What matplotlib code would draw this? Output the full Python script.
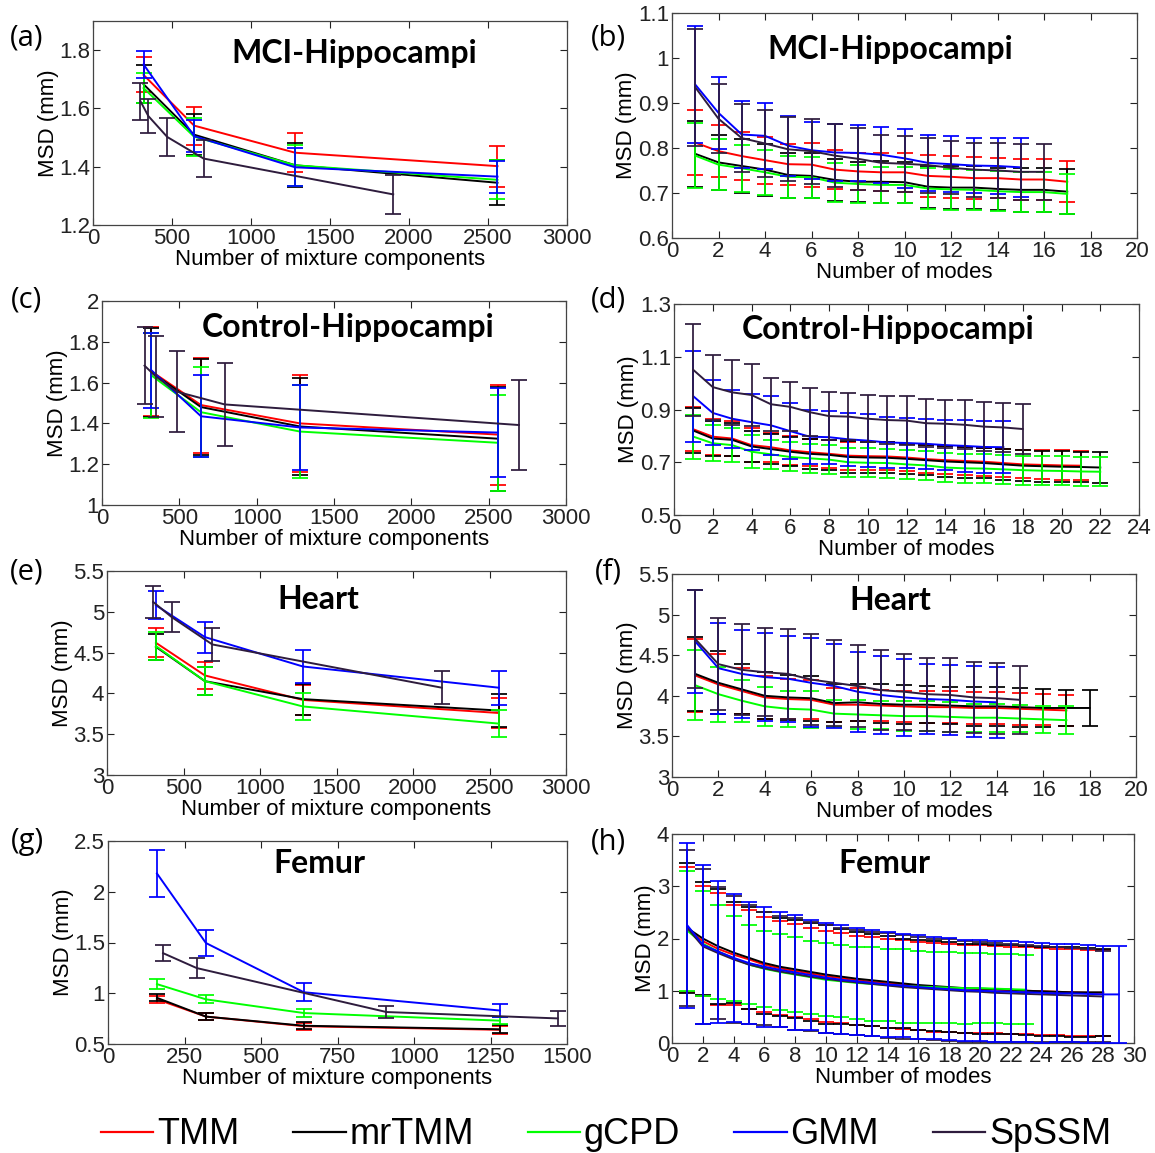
import matplotlib
matplotlib.use("Agg")
import matplotlib.pyplot as plt
from matplotlib.lines import Line2D
import numpy as np

W, H = 1155, 1153

# ---- (a) MCI-Hippocampi vs. mixture components ----
A_X = [320, 640, 1280, 2560]
A_TMM = [1.715, 1.541, 1.448, 1.402]
A_TMM_ERR = [0.060, 0.065, 0.067, 0.070]
A_MRTMM = [1.683, 1.510, 1.405, 1.345]
A_MRTMM_ERR = [0.065, 0.070, 0.075, 0.077]
A_GCPD = [1.670, 1.503, 1.405, 1.355]
A_GCPD_ERR = [0.050, 0.065, 0.070, 0.067]
A_GMM = [1.751, 1.505, 1.398, 1.366]
A_GMM_ERR = [0.045, 0.055, 0.065, 0.055]
A_SP_X = [300, 350, 470, 700, 1900]
A_SP = [1.625, 1.574, 1.502, 1.428, 1.305]
A_SP_ERR = [0.063, 0.058, 0.064, 0.063, 0.066]

# ---- (b) MCI-Hippocampi vs. modes ----
B_TMM = [0.812, 0.793, 0.782, 0.773, 0.764, 0.763, 0.752, 0.748, 0.746, 0.746,
         0.738, 0.736, 0.733, 0.733, 0.730, 0.730, 0.725]
B_TMM_ERR = [0.072, 0.058, 0.053, 0.052, 0.046, 0.049, 0.043, 0.042, 0.042, 0.044,
             0.047, 0.046, 0.047, 0.045, 0.046, 0.046, 0.046]
B_MRTMM = [0.787, 0.768, 0.760, 0.752, 0.740, 0.738, 0.729, 0.725, 0.725, 0.724,
           0.714, 0.712, 0.712, 0.709, 0.707, 0.707, 0.703]
B_MRTMM_ERR = [0.074, 0.062, 0.060, 0.058, 0.050, 0.050, 0.047, 0.045, 0.047, 0.046,
               0.047, 0.047, 0.047, 0.046, 0.049, 0.049, 0.050]
B_GCPD = [0.783, 0.763, 0.755, 0.746, 0.736, 0.735, 0.723, 0.720, 0.718, 0.718,
          0.710, 0.708, 0.707, 0.704, 0.702, 0.702, 0.698]
B_GCPD_ERR = [0.072, 0.057, 0.052, 0.050, 0.047, 0.046, 0.043, 0.042, 0.040, 0.040,
              0.045, 0.045, 0.045, 0.045, 0.045, 0.045, 0.045]
B_GMM = [0.941, 0.878, 0.830, 0.827, 0.805, 0.795, 0.790, 0.789, 0.785, 0.777,
         0.767, 0.764, 0.761, 0.760, 0.757]
B_GMM_ERR = [0.130, 0.080, 0.075, 0.073, 0.067, 0.063, 0.063, 0.063, 0.062, 0.066,
             0.063, 0.062, 0.062, 0.063, 0.065]
B_SP = [0.935, 0.865, 0.822, 0.810, 0.797, 0.793, 0.783, 0.776, 0.767, 0.765,
        0.762, 0.756, 0.752, 0.750, 0.747, 0.747]
B_SP_ERR = [0.130, 0.077, 0.076, 0.075, 0.071, 0.072, 0.070, 0.069, 0.063, 0.062,
            0.061, 0.059, 0.060, 0.062, 0.063, 0.063]

# ---- (c) Control-Hippocampi vs. mixture components ----
C_X = [320, 640, 1280, 2560]
C_TMM = [1.655, 1.490, 1.400, 1.345]
C_TMM_ERR = [0.220, 0.233, 0.237, 0.245]
C_MRTMM = [1.650, 1.480, 1.385, 1.325]
C_MRTMM_ERR = [0.220, 0.235, 0.240, 0.255]
C_GCPD = [1.635, 1.455, 1.360, 1.305]
C_GCPD_ERR = [0.210, 0.220, 0.230, 0.235]
C_GMM = [1.660, 1.435, 1.380, 1.355]
C_GMM_ERR = [0.183, 0.200, 0.207, 0.218]
C_SP_X = [275, 348, 482, 793, 2696]
C_SP = [1.683, 1.630, 1.556, 1.493, 1.392]
C_SP_ERR = [0.190, 0.198, 0.200, 0.202, 0.220]

# ---- (d) Control-Hippocampi vs. modes ----
D_TMM = [0.825, 0.797, 0.790, 0.765, 0.757, 0.745, 0.738, 0.732, 0.725, 0.723, 0.722,
         0.718, 0.712, 0.708, 0.705, 0.702, 0.697, 0.692, 0.690, 0.688, 0.687]
D_TMM_ERR = [0.083, 0.068, 0.065, 0.065, 0.055, 0.055, 0.052, 0.052, 0.053, 0.053, 0.053,
             0.053, 0.053, 0.053, 0.053, 0.053, 0.053, 0.053, 0.055, 0.057, 0.055]
D_MRTMM = [0.820, 0.790, 0.785, 0.760, 0.750, 0.740, 0.732, 0.728, 0.720, 0.718, 0.717,
           0.713, 0.708, 0.703, 0.700, 0.697, 0.692, 0.687, 0.685, 0.683, 0.682, 0.680]
D_MRTMM_ERR = [0.085, 0.065, 0.062, 0.060, 0.058, 0.056, 0.058, 0.058, 0.060, 0.060, 0.058,
               0.058, 0.058, 0.058, 0.058, 0.058, 0.058, 0.058, 0.058, 0.058, 0.058, 0.058]
D_GCPD = [0.797, 0.772, 0.765, 0.740, 0.730, 0.720, 0.715, 0.710, 0.700, 0.698, 0.697,
          0.692, 0.688, 0.680, 0.677, 0.676, 0.673, 0.670, 0.668, 0.667, 0.665, 0.664]
D_GCPD_ERR = [0.083, 0.068, 0.065, 0.062, 0.055, 0.055, 0.055, 0.055, 0.055, 0.055, 0.055,
              0.055, 0.055, 0.055, 0.055, 0.055, 0.055, 0.055, 0.055, 0.055, 0.055, 0.055]
D_GMM = [0.950, 0.887, 0.865, 0.852, 0.840, 0.818, 0.797, 0.795, 0.787, 0.782, 0.775,
         0.773, 0.770, 0.765, 0.762, 0.758, 0.757]
D_GMM_ERR = [0.172, 0.123, 0.110, 0.106, 0.112, 0.105, 0.103, 0.100, 0.100, 0.100, 0.095,
             0.095, 0.095, 0.095, 0.098, 0.097, 0.098]
D_SP = [1.050, 0.985, 0.965, 0.955, 0.920, 0.910, 0.890, 0.875, 0.873, 0.865, 0.860,
        0.858, 0.848, 0.846, 0.842, 0.835, 0.832, 0.826]
D_SP_ERR = [0.175, 0.123, 0.122, 0.117, 0.100, 0.093, 0.090, 0.090, 0.090, 0.090, 0.092,
            0.092, 0.090, 0.091, 0.093, 0.092, 0.093, 0.096]

# ---- (e) Heart vs. mixture components ----
E_X = [320, 640, 1280, 2560]
E_TMM = [4.62, 4.22, 3.92, 3.76]
E_TMM_ERR = [0.18, 0.17, 0.18, 0.185]
E_MRTMM = [4.57, 4.15, 3.93, 3.79]
E_MRTMM_ERR = [0.16, 0.17, 0.19, 0.20]
E_GCPD = [4.58, 4.15, 3.84, 3.63]
E_GCPD_ERR = [0.17, 0.17, 0.17, 0.17]
E_GMM = [5.08, 4.69, 4.33, 4.07]
E_GMM_ERR = [0.17, 0.19, 0.20, 0.21]
E_SP_X = [302, 423, 688, 2188]
E_SP = [5.12, 4.935, 4.60, 4.07]
E_SP_ERR = [0.20, 0.185, 0.20, 0.20]

# ---- (f) Heart vs. modes ----
F_TMM = [4.25, 4.14, 4.06, 3.98, 3.96, 3.95, 3.89, 3.89, 3.88, 3.87, 3.86, 3.86,
         3.85, 3.85, 3.84, 3.83, 3.82]
F_TMM_ERR = [0.45, 0.37, 0.28, 0.27, 0.25, 0.24, 0.21, 0.20, 0.19, 0.19, 0.20, 0.20,
             0.20, 0.20, 0.20, 0.19, 0.19]
F_MRTMM = [4.27, 4.16, 4.08, 4.00, 3.98, 3.97, 3.91, 3.92, 3.90, 3.89, 3.89, 3.88,
           3.87, 3.87, 3.86, 3.85, 3.85, 3.85]
F_MRTMM_ERR = [0.46, 0.39, 0.31, 0.29, 0.28, 0.28, 0.23, 0.23, 0.24, 0.24, 0.23, 0.23,
               0.24, 0.24, 0.24, 0.23, 0.22, 0.22]
F_GCPD = [4.13, 4.02, 3.94, 3.87, 3.84, 3.83, 3.78, 3.77, 3.76, 3.75, 3.75, 3.74,
          3.73, 3.73, 3.72, 3.71, 3.70]
F_GCPD_ERR = [0.43, 0.34, 0.26, 0.24, 0.22, 0.23, 0.17, 0.18, 0.17, 0.18, 0.18, 0.18,
              0.17, 0.17, 0.17, 0.17, 0.17]
F_GMM = [4.67, 4.34, 4.27, 4.23, 4.21, 4.16, 4.12, 4.05, 4.01, 3.98, 3.96, 3.95,
         3.93, 3.92]
F_GMM_ERR = [0.63, 0.56, 0.54, 0.54, 0.53, 0.55, 0.52, 0.49, 0.48, 0.47, 0.43, 0.43,
             0.44, 0.44]
F_SP = [4.70, 4.39, 4.32, 4.29, 4.27, 4.20, 4.16, 4.12, 4.07, 4.05, 4.02, 4.01,
        3.98, 3.97, 3.95]
F_SP_ERR = [0.60, 0.57, 0.56, 0.54, 0.55, 0.56, 0.53, 0.50, 0.49, 0.47, 0.45, 0.46,
            0.44, 0.44, 0.42]

# ---- (g) Femur vs. mixture components ----
G_X = [160, 320, 640, 1280]
G_TMM = [0.94, 0.77, 0.675, 0.640]
G_TMM_ERR = [0.035, 0.035, 0.035, 0.040]
G_MRTMM = [0.955, 0.770, 0.680, 0.645]
G_MRTMM_ERR = [0.035, 0.035, 0.035, 0.040]
G_GCPD = [1.09, 0.94, 0.805, 0.730]
G_GCPD_ERR = [0.050, 0.040, 0.035, 0.035]
G_GMM = [2.18, 1.495, 1.01, 0.83]
G_GMM_ERR = [0.235, 0.125, 0.090, 0.065]
G_SP_X = [180, 290, 910, 1470]
G_SP = [1.395, 1.248, 0.815, 0.752]
G_SP_ERR = [0.080, 0.100, 0.055, 0.070]

# ---- (h) Femur vs. modes ----
H_TMM = [2.17, 1.95, 1.80, 1.69, 1.60, 1.50, 1.43, 1.38, 1.33, 1.28, 1.24, 1.20, 1.17, 1.14,
         1.12, 1.09, 1.07, 1.06, 1.04, 1.03, 1.02, 1.01, 1.00, 0.99, 0.98, 0.97, 0.96, 0.96]
H_TMM_ERR = [1.19, 1.05, 1.07, 0.96, 0.95, 0.91, 0.90, 0.89, 0.87, 0.87, 0.86, 0.85, 0.85, 0.86,
             0.85, 0.84, 0.85, 0.84, 0.84, 0.84, 0.83, 0.83, 0.83, 0.83, 0.82, 0.83, 0.82, 0.82]
H_MRTMM = [2.20, 2.00, 1.85, 1.73, 1.63, 1.53, 1.46, 1.41, 1.36, 1.31, 1.27, 1.23, 1.20, 1.17,
           1.14, 1.11, 1.09, 1.07, 1.05, 1.04, 1.03, 1.02, 1.00, 0.99, 0.98, 0.97, 0.97, 0.97]
H_MRTMM_ERR = [1.24, 1.08, 1.10, 0.97, 0.97, 0.97, 0.94, 0.94, 0.94, 0.94, 0.91, 0.89, 0.88, 0.88,
               0.86, 0.86, 0.86, 0.86, 0.85, 0.86, 0.85, 0.85, 0.85, 0.85, 0.85, 0.86, 0.85, 0.83]
H_GCPD = [2.15, 1.90, 1.75, 1.62, 1.50, 1.42, 1.36, 1.31, 1.26, 1.21, 1.18, 1.15, 1.13, 1.11,
          1.09, 1.08, 1.07, 1.06, 1.05, 1.05, 1.04, 1.03, 1.02]
H_GCPD_ERR = [1.15, 1.00, 0.90, 0.81, 0.75, 0.73, 0.72, 0.71, 0.70, 0.70, 0.69, 0.69, 0.70, 0.69,
              0.70, 0.69, 0.68, 0.68, 0.68, 0.67, 0.66, 0.67, 0.66]
H_GMM = [2.25, 1.88, 1.75, 1.63, 1.53, 1.46, 1.40, 1.35, 1.30, 1.25, 1.21, 1.18, 1.15, 1.12,
         1.10, 1.07, 1.05, 1.03, 1.01, 1.00, 0.99, 0.98, 0.97, 0.96, 0.95, 0.95, 0.94, 0.93, 0.93]
H_GMM_ERR = [1.58, 1.52, 1.36, 1.22, 1.16, 1.15, 1.10, 1.10, 1.06, 1.05, 1.04, 1.02, 1.02, 1.01,
             0.99, 0.99, 0.98, 0.98, 0.97, 0.97, 0.97, 0.97, 0.96, 0.96, 0.94, 0.94, 0.94, 0.93, 0.93]
H_SP = [2.20, 1.85, 1.72, 1.60, 1.50, 1.43, 1.37, 1.32, 1.27, 1.23, 1.19, 1.16, 1.13, 1.10,
        1.07, 1.05, 1.03, 1.01, 0.99, 0.98, 0.96, 0.95, 0.94, 0.93, 0.92, 0.91, 0.90, 0.89]
H_SP_ERR = [1.50, 1.48, 1.27, 1.22, 1.14, 1.08, 1.07, 1.07, 1.04, 1.03, 1.02, 1.01, 1.00, 1.00,
            0.99, 0.98, 0.97, 0.98, 0.97, 0.96, 0.95, 0.94, 0.93, 0.92, 0.91, 0.90, 0.89, 0.88]

METHODS = ["TMM", "mrTMM", "gCPD", "GMM", "SpSSM"]
COLORS = {"TMM": "#ff0000", "mrTMM": "#000000", "gCPD": "#00ff00",
          "GMM": "#0000ff", "SpSSM": "#2e1c3d"}

TICK_FONT = ["Liberation Sans", "DejaVu Sans"]
TITLE_FONT = ["Lato", "DejaVu Sans"]
LW = 1.4


def px_axes(left, top, right, bottom):
    return fig.add_axes([left / W, 1 - bottom / H, (right - left) / W, (bottom - top) / H])


def draw_series(ax, x, y, err, name, z):
    ax.errorbar(x, y, yerr=err, color=COLORS[name], lw=LW, elinewidth=LW * 0.9,
                capsize=6, capthick=LW * 0.9, zorder=z)


def style_axes(ax, xlim, xticks, ylim, yticks, xlabel):
    ax.set_xlim(xlim)
    ax.set_ylim(ylim)
    ax.set_xticks(xticks)
    ax.set_xticklabels([f"{v:g}" for v in xticks], family=TICK_FONT, fontsize=16)
    ax.set_yticks(yticks)
    ax.set_yticklabels([f"{v:g}" for v in yticks], family=TICK_FONT, fontsize=16)
    ax.tick_params(direction="in", length=5, width=0.8, top=True, right=True, pad=2,
                   colors="#222222")
    for s in ax.spines.values():
        s.set_linewidth(0.9)
        s.set_color("#444444")
    ax.set_xlabel(xlabel, family=TICK_FONT, fontsize=16, labelpad=0)
    ax.set_ylabel("MSD (mm)", family=TICK_FONT, fontsize=16, labelpad=0.5)


def panel(ax, title, title_xy, series, order=METHODS):
    for z, name in enumerate(order):
        x, y, e = series[name]
        draw_series(ax, x, y, e, name, 3 + z)
    ax.text(*title_xy, title, transform=ax.transAxes, ha="center", va="center",
            family=TITLE_FONT, fontweight="bold", fontsize=23)


def modes(v):
    return np.arange(1, len(v) + 1)


fig = plt.figure(figsize=(W / 100, H / 100), dpi=100)

left_lbl = "Number of mixture components"
right_lbl = "Number of modes"

# (a)
ax = px_axes(93, 21, 567, 225)
panel(ax, "MCI-Hippocampi", (0.55, 0.84), {
    "TMM": (A_X, A_TMM, A_TMM_ERR), "mrTMM": (A_X, A_MRTMM, A_MRTMM_ERR),
    "gCPD": (A_X, A_GCPD, A_GCPD_ERR), "GMM": (A_X, A_GMM, A_GMM_ERR),
    "SpSSM": (A_SP_X, A_SP, A_SP_ERR)})
style_axes(ax, (0, 3000), np.arange(0, 3001, 500), (1.2, 1.9), [1.2, 1.4, 1.6, 1.8], left_lbl)

# (b)
ax = px_axes(672, 13, 1137, 238)
panel(ax, "MCI-Hippocampi", (0.47, 0.84), {
    "TMM": (modes(B_TMM), B_TMM, B_TMM_ERR), "mrTMM": (modes(B_MRTMM), B_MRTMM, B_MRTMM_ERR),
    "gCPD": (modes(B_GCPD), B_GCPD, B_GCPD_ERR), "GMM": (modes(B_GMM), B_GMM, B_GMM_ERR),
    "SpSSM": (modes(B_SP), B_SP, B_SP_ERR)})
style_axes(ax, (0, 20), np.arange(0, 21, 2), (0.6, 1.1), [0.6, 0.7, 0.8, 0.9, 1.0, 1.1], right_lbl)

# (c)
ax = px_axes(102, 301, 566, 505)
panel(ax, "Control-Hippocampi", (0.53, 0.87), {
    "TMM": (C_X, C_TMM, C_TMM_ERR), "mrTMM": (C_X, C_MRTMM, C_MRTMM_ERR),
    "gCPD": (C_X, C_GCPD, C_GCPD_ERR), "GMM": (C_X, C_GMM, C_GMM_ERR),
    "SpSSM": (C_SP_X, C_SP, C_SP_ERR)})
style_axes(ax, (0, 3000), np.arange(0, 3001, 500), (1.0, 2.0), [1.0, 1.2, 1.4, 1.6, 1.8, 2.0], left_lbl)

# (d)
ax = px_axes(674, 304, 1139, 515)
panel(ax, "Control-Hippocampi", (0.46, 0.88), {
    "TMM": (modes(D_TMM), D_TMM, D_TMM_ERR), "mrTMM": (modes(D_MRTMM), D_MRTMM, D_MRTMM_ERR),
    "gCPD": (modes(D_GCPD), D_GCPD, D_GCPD_ERR), "GMM": (modes(D_GMM), D_GMM, D_GMM_ERR),
    "SpSSM": (modes(D_SP), D_SP, D_SP_ERR)})
style_axes(ax, (0, 24), np.arange(0, 25, 2), (0.5, 1.3), [0.5, 0.7, 0.9, 1.1, 1.3], right_lbl)

# (e)
ax = px_axes(107, 571, 566, 775)
panel(ax, "Heart", (0.46, 0.86), {
    "TMM": (E_X, E_TMM, E_TMM_ERR), "mrTMM": (E_X, E_MRTMM, E_MRTMM_ERR),
    "gCPD": (E_X, E_GCPD, E_GCPD_ERR), "GMM": (E_X, E_GMM, E_GMM_ERR),
    "SpSSM": (E_SP_X, E_SP, E_SP_ERR)})
style_axes(ax, (0, 3000), np.arange(0, 3001, 500), (3, 5.5), [3, 3.5, 4, 4.5, 5, 5.5], left_lbl)

# (f)
ax = px_axes(672, 574, 1136, 777)
panel(ax, "Heart", (0.47, 0.87), {
    "TMM": (modes(F_TMM), F_TMM, F_TMM_ERR), "mrTMM": (modes(F_MRTMM), F_MRTMM, F_MRTMM_ERR),
    "gCPD": (modes(F_GCPD), F_GCPD, F_GCPD_ERR), "GMM": (modes(F_GMM), F_GMM, F_GMM_ERR),
    "SpSSM": (modes(F_SP), F_SP, F_SP_ERR)})
style_axes(ax, (0, 20), np.arange(0, 21, 2), (3, 5.5), [3, 3.5, 4, 4.5, 5, 5.5], right_lbl)

# (g)
ax = px_axes(108, 841, 567, 1044)
panel(ax, "Femur", (0.46, 0.89), {
    "TMM": (G_X, G_TMM, G_TMM_ERR), "mrTMM": (G_X, G_MRTMM, G_MRTMM_ERR),
    "gCPD": (G_X, G_GCPD, G_GCPD_ERR), "GMM": (G_X, G_GMM, G_GMM_ERR),
    "SpSSM": (G_SP_X, G_SP, G_SP_ERR)})
style_axes(ax, (0, 1500), np.arange(0, 1501, 250), (0.5, 2.5), [0.5, 1, 1.5, 2, 2.5], left_lbl)

# (h) - GMM bars sit on top of the SpSSM ones here
ax = px_axes(672, 834, 1134, 1043)
panel(ax, "Femur", (0.46, 0.86), {
    "TMM": (modes(H_TMM), H_TMM, H_TMM_ERR), "mrTMM": (modes(H_MRTMM), H_MRTMM, H_MRTMM_ERR),
    "gCPD": (modes(H_GCPD), H_GCPD, H_GCPD_ERR), "GMM": (modes(H_GMM), H_GMM, H_GMM_ERR),
    "SpSSM": (modes(H_SP), H_SP, H_SP_ERR)},
    order=["TMM", "mrTMM", "gCPD", "SpSSM", "GMM"])
style_axes(ax, (0, 30), np.arange(0, 31, 2), (0, 4), [0, 1, 2, 3, 4], right_lbl)

# panel letters
for letter, (lx, ly) in zip("abcdefgh", [(27, 38), (608, 38), (27, 300), (608, 300),
                                         (27, 572), (608, 572), (27, 842), (608, 842)]):
    fig.text(lx / W, 1 - ly / H, f"({letter})", family=["Open Sans", "DejaVu Sans"],
             fontsize=21, ha="center", va="center")

# shared legend along the bottom
handles = [Line2D([], [], color=COLORS[m], lw=1.6) for m in METHODS]
fig.legend(handles, METHODS, loc="center", bbox_to_anchor=(606 / W, 1 - 1135 / H),
           ncol=5, frameon=False, handlelength=1.45, handletextpad=0.1,
           columnspacing=1.5, prop={"family": TICK_FONT, "size": 26})

fig.savefig("out.png", dpi=100)
